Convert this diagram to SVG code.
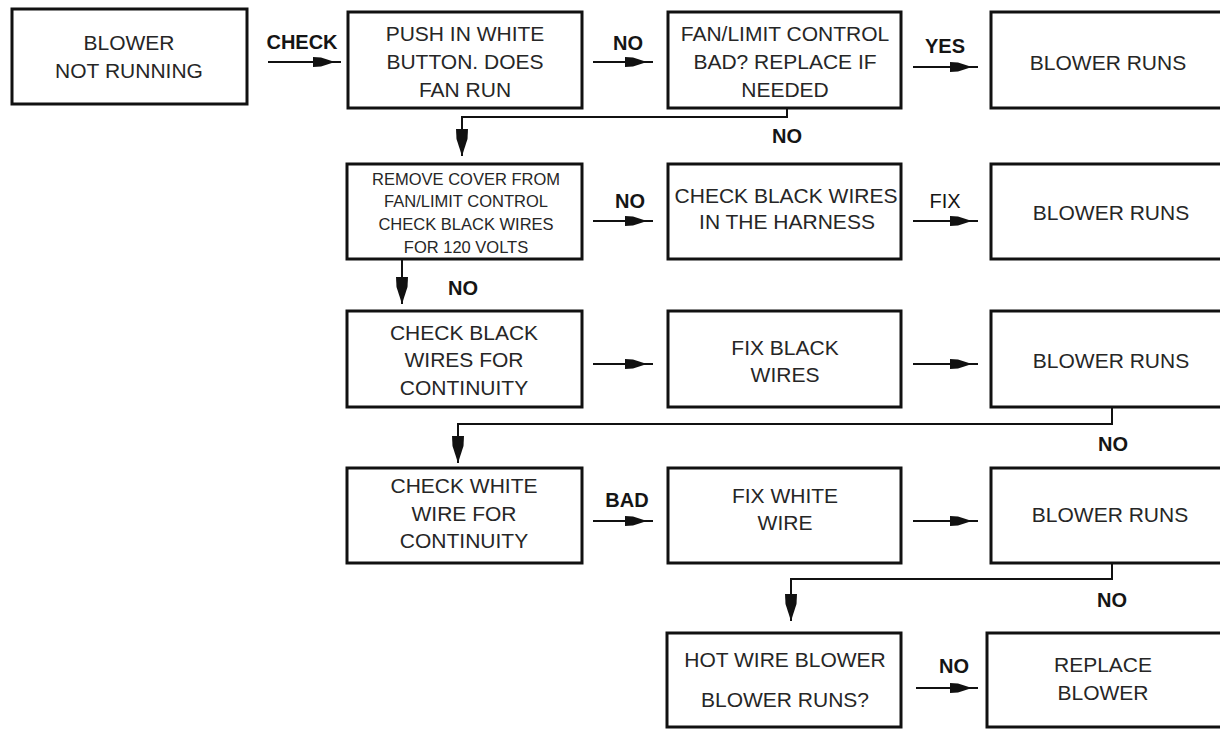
<svg xmlns="http://www.w3.org/2000/svg" width="1220" height="729" viewBox="0 0 1220 729">
<style>
.box{fill:#fff;stroke:#111;stroke-width:3}
.t{font-family:"Liberation Sans",Arial,sans-serif;font-size:21px;fill:#262626;text-anchor:middle}
.s{font-size:16.5px}
.lbl{font-family:"Liberation Sans",Arial,sans-serif;font-size:20px;font-weight:bold;fill:#151515;text-anchor:middle}
.c{fill:none;stroke:#111;stroke-width:2}
</style>
<defs>
<marker id="ah" markerUnits="userSpaceOnUse" markerWidth="30" markerHeight="12" viewBox="0 0 30 12" refX="28" refY="6" orient="auto">
<path d="M0,1 L8,1.5 L22,6 L8,10.5 L0,11 z" fill="#111"/>
</marker>
<marker id="ad" markerUnits="userSpaceOnUse" markerWidth="28" markerHeight="14" viewBox="0 0 28 14" refX="27" refY="7" orient="auto">
<path d="M0,1 L10,1.5 L27,7 L10,12.5 L0,13 z" fill="#111"/>
</marker>
</defs>
<rect width="1220" height="729" fill="#fff"/>

<g id="connectors">
<path class="c" d="M268,62 H341" marker-end="url(#ah)"/>
<path class="c" d="M593,62 H653" marker-end="url(#ah)"/>
<path class="c" d="M913,67 H978" marker-end="url(#ah)"/>
<path class="c" d="M787,108 V117 H462 V156" marker-end="url(#ad)"/>
<path class="c" d="M593,221 H653" marker-end="url(#ah)"/>
<path class="c" d="M913,221 H978" marker-end="url(#ah)"/>
<path class="c" d="M402,260 V304" marker-end="url(#ad)"/>
<path class="c" d="M593,364 H653" marker-end="url(#ah)"/>
<path class="c" d="M913,364 H978" marker-end="url(#ah)"/>
<path class="c" d="M1112,407 V424 H458 V463" marker-end="url(#ad)"/>
<path class="c" d="M593,521 H653" marker-end="url(#ah)"/>
<path class="c" d="M913,521 H978" marker-end="url(#ah)"/>
<path class="c" d="M1112,563 V579 H791 V621" marker-end="url(#ad)"/>
<path class="c" d="M916,688 H978" marker-end="url(#ah)"/>
<text class="lbl" x="302" y="49">CHECK</text>
<text class="lbl" x="628" y="50">NO</text>
<text class="lbl" x="945" y="53">YES</text>
<text class="lbl" x="787" y="143">NO</text>
<text class="lbl" x="630" y="208">NO</text>
<text class="lbl" x="945" y="208" style="font-weight:normal">FIX</text>
<text class="lbl" x="463" y="295">NO</text>
<text class="lbl" x="1113" y="451">NO</text>
<text class="lbl" x="627" y="507">BAD</text>
<text class="lbl" x="1112" y="607">NO</text>
<text class="lbl" x="954" y="673">NO</text>
</g>

<g id="n1"><rect class="box" x="12" y="9" width="235" height="95"/>
<text class="t" x="129" y="50">BLOWER</text><text class="t" x="129" y="78">NOT RUNNING</text></g>

<g id="n2"><rect class="box" x="348" y="12" width="234" height="96"/>
<text class="t" x="465" y="41">PUSH IN WHITE</text><text class="t" x="465" y="69">BUTTON. DOES</text><text class="t" x="465" y="97">FAN RUN</text></g>

<g id="n3"><rect class="box" x="668" y="12" width="233" height="96"/>
<text class="t" x="785" y="41">FAN/LIMIT CONTROL</text><text class="t" x="785" y="69">BAD? REPLACE IF</text><text class="t" x="785" y="97">NEEDED</text></g>

<g id="n4"><rect class="box" x="991" y="12" width="240" height="96"/>
<text class="t" x="1108" y="70">BLOWER RUNS</text></g>

<g id="n5"><rect class="box" x="347" y="164" width="235" height="95"/>
<text class="t s" x="466" y="185">REMOVE COVER FROM</text><text class="t s" x="466" y="207">FAN/LIMIT CONTROL</text><text class="t s" x="466" y="230">CHECK BLACK WIRES</text><text class="t s" x="466" y="253">FOR 120 VOLTS</text></g>

<g id="n6"><rect class="box" x="668" y="164" width="233" height="95"/>
<text class="t" x="786" y="203">CHECK BLACK WIRES</text><text class="t" x="787" y="229">IN THE HARNESS</text></g>

<g id="n7"><rect class="box" x="991" y="164" width="240" height="95"/>
<text class="t" x="1111" y="220">BLOWER RUNS</text></g>

<g id="n8"><rect class="box" x="347" y="311" width="235" height="96"/>
<text class="t" x="464" y="340">CHECK BLACK</text><text class="t" x="464" y="367">WIRES FOR</text><text class="t" x="464" y="395">CONTINUITY</text></g>

<g id="n9"><rect class="box" x="668" y="311" width="233" height="96"/>
<text class="t" x="785" y="355">FIX BLACK</text><text class="t" x="785" y="382">WIRES</text></g>

<g id="n10"><rect class="box" x="991" y="311" width="240" height="96"/>
<text class="t" x="1111" y="368">BLOWER RUNS</text></g>

<g id="n11"><rect class="box" x="347" y="468" width="235" height="95"/>
<text class="t" x="464" y="493">CHECK WHITE</text><text class="t" x="464" y="521">WIRE FOR</text><text class="t" x="464" y="548">CONTINUITY</text></g>

<g id="n12"><rect class="box" x="668" y="468" width="233" height="95"/>
<text class="t" x="785" y="503">FIX WHITE</text><text class="t" x="785" y="530">WIRE</text></g>

<g id="n13"><rect class="box" x="991" y="468" width="240" height="95"/>
<text class="t" x="1110" y="522">BLOWER RUNS</text></g>

<g id="n14"><rect class="box" x="667" y="633" width="234" height="94"/>
<text class="t" x="785" y="667">HOT WIRE BLOWER</text><text class="t" x="785" y="707">BLOWER RUNS?</text></g>

<g id="n15"><rect class="box" x="987" y="633" width="244" height="94"/>
<text class="t" x="1103" y="672">REPLACE</text><text class="t" x="1103" y="700">BLOWER</text></g>
</svg>
